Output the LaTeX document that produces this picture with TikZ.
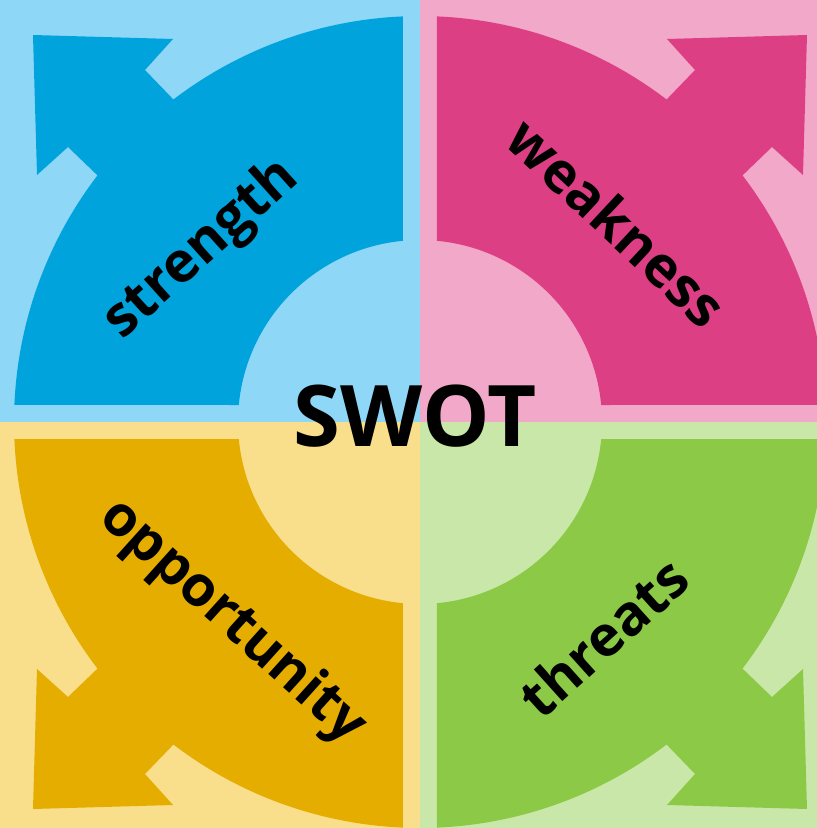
\documentclass[tikz,border=0pt]{standalone}
\usepackage{fontspec}
\setmainfont{Open Sans}

\definecolor{sLight}{HTML}{8FD7F7}
\definecolor{sDark}{HTML}{00A3DC}
\definecolor{wLight}{HTML}{F2A8C8}
\definecolor{wDark}{HTML}{DD3F85}
\definecolor{oLight}{HTML}{F9DE8C}
\definecolor{oDark}{HTML}{E5AD00}
\definecolor{tLight}{HTML}{C9E7A8}
\definecolor{tDark}{HTML}{8CC946}

\begin{document}
\begin{tikzpicture}[x=1pt,y=1pt]
                \tikzset{petal/.pic={
                \fill[pic actions] (17,181.2) -- (17,405.6) arc[start angle=87.6, end angle=52.6, radius=406pt]
                    -- (275,352) -- (247,383) -- (387,387) -- (383,247) -- (352,275) -- (322.5,246.6)
                    arc[start angle=37.4, end angle=2.4, radius=406pt] -- (181.2,17)
                    arc[start angle=5.36, end angle=84.64, radius=182pt] -- cycle;},
                word/.style={font=\bfseries\fontsize{56}{56}\selectfont, inner sep=0pt}}

                \useasboundingbox (-420,-406) rectangle (397,422);
                \clip (-420,-406) rectangle (397,422);

                \fill[sLight] (-420,0) rectangle (0,422);
                \fill[wLight] (0,0) rectangle (397,422);
                \fill[oLight] (-420,-406) rectangle (0,0);
                \fill[tLight] (0,-406) rectangle (397,0);

                \pic[fill=sDark, xscale=-1] {petal};
                \pic[fill=wDark] {petal};
                \pic[fill=oDark, xscale=-1, yscale=-1] {petal};
                \pic[fill=tDark, yscale=-1] {petal};

                \node[word, rotate=42] (strength) at (-218,172) {strength};
                \node[word, rotate=-43] (weakness) at (197,200) {weakness};
                \node[word, rotate=-42] (opportunity) at (-188,-200) {opportunity};
                \node[word, rotate=42] (threats) at (183,-215) {threats};
                \node[font=\bfseries\fontsize{85}{85}\selectfont, inner sep=0pt] (swot) at (-5,6) {SWOT};
            \end{tikzpicture}
\end{document}
